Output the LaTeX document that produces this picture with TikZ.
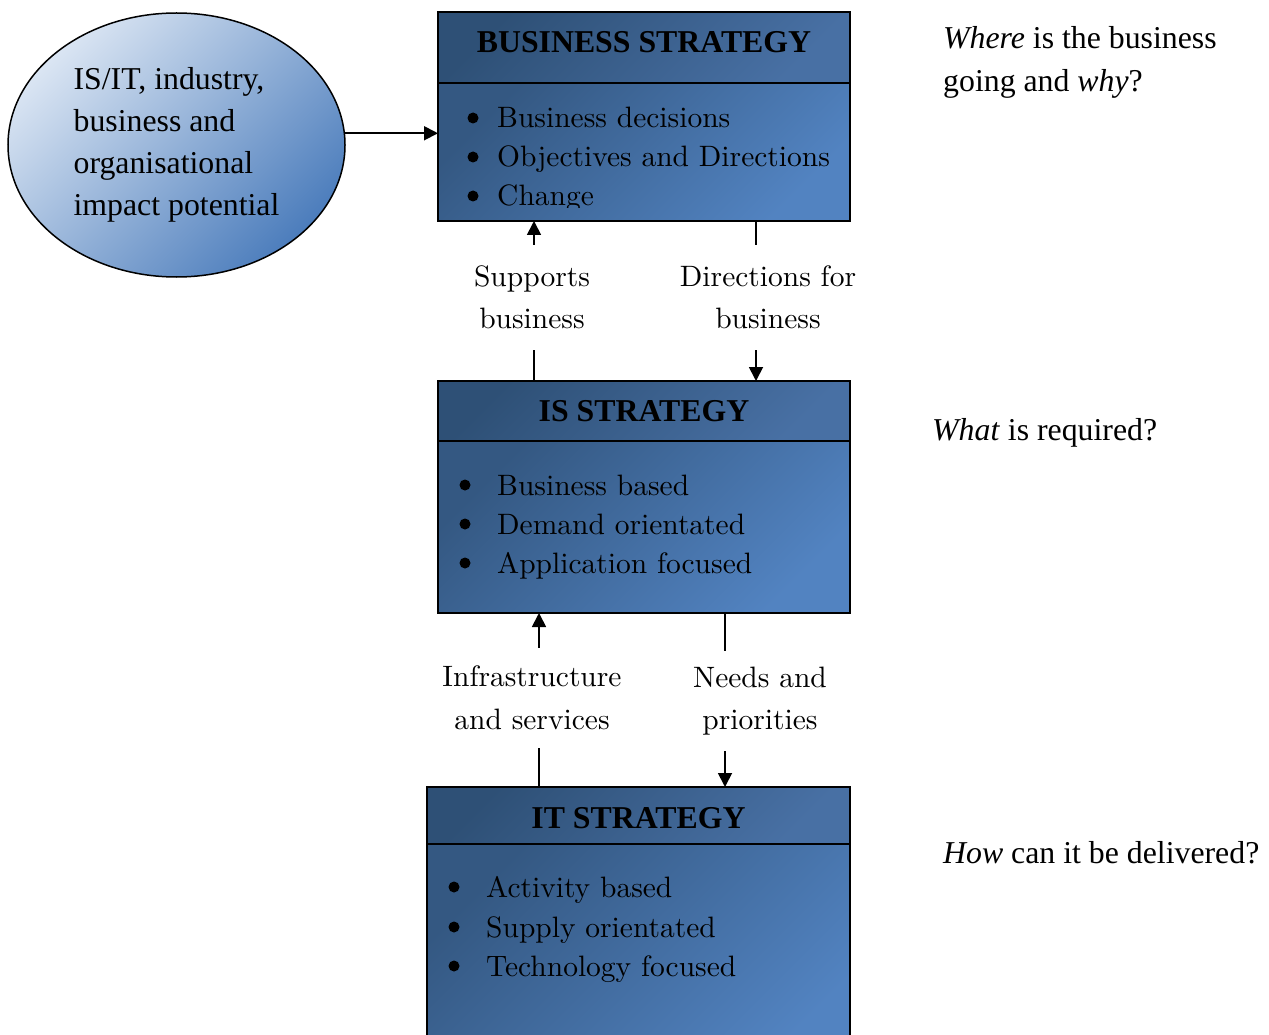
\documentclass[tikz,border=0pt]{standalone}
\usepackage{fontspec}
\setmainfont{Liberation Serif}
\newfontfamily\listfont[Extension=.otf]{lmroman10-regular}
\usetikzlibrary{arrows.meta,shapes.geometric}

\definecolor{boxdark}{RGB}{52,88,130}
\definecolor{boxlight}{RGB}{82,131,193}
\definecolor{headdark}{RGB}{46,80,118}
\definecolor{headlight}{RGB}{72,112,164}
\definecolor{ovallight}{RGB}{218,229,243}
\definecolor{ovaldark}{RGB}{76,125,188}

\tikzset{
  panel/.style={draw=black, line width=1.8pt, inner sep=0pt, outer sep=0pt,
    anchor=north west, top color=boxdark, bottom color=boxlight, shading angle=45},
  headpanel/.style={panel, top color=headdark, bottom color=headlight, shading angle=45},
  oval/.style={ellipse, draw=black, line width=1.5pt, inner sep=0pt, outer sep=0pt,
    top color=ovallight, bottom color=ovaldark, shading angle=45,
    align=left, font=\fontsize{31.8}{42}\selectfont},
  heading/.style={anchor=base, inner sep=0pt, font=\bfseries\fontsize{31.8}{38}\selectfont},
  item/.style={anchor=base west, inner sep=0pt, font=\listfont\fontsize{29.5}{36}\selectfont},
  dot/.style={circle, fill=black, inner sep=0pt, minimum size=11pt},
  flowlabel/.style={align=center, inner sep=0pt, font=\listfont\fontsize{29.5}{42.5}\selectfont},
  note/.style={inner sep=0pt, align=left, font=\fontsize{31.8}{43}\selectfont},
  link/.style={draw=black, line width=1.8pt},
  tip/.style={-{Triangle[length=14pt,width=14pt]}}
}

\begin{document}
\begin{tikzpicture}[x=1pt,y=-1pt]
\useasboundingbox (0,0) rectangle (1269,1035);
\clip (0,0) rectangle (1269,1035);

% source of impact potential
\node[oval, minimum width=337pt, minimum height=264pt] (src) at (176.5,145)
  {IS/IT, industry,\\business and\\organisational\\impact potential};

% business strategy
\node[headpanel, minimum width=412pt, minimum height=71pt] (bshead) at (438,12) {};
\node[panel, minimum width=412pt, minimum height=138pt] (bsbody) at (438,83) {};
\node[heading] (bstitle) at (644,53) {BUSINESS STRATEGY};
\begin{scope}
  \clip (438,83) rectangle (850,208);
  \node[dot] (bsd1) at (473,118) {};
  \node[item] (bsi1) at (497,128) {Business decisions};
  \node[dot] (bsd2) at (473,157) {};
  \node[item] (bsi2) at (497,167) {Objectives and Directions};
  \node[dot] (bsd3) at (473,196) {};
  \node[item] (bsi3) at (497,206) {Change};
\end{scope}

% IS strategy
\node[headpanel, minimum width=412pt, minimum height=60pt] (ishead) at (438,381) {};
\node[panel, minimum width=412pt, minimum height=172pt] (isbody) at (438,441) {};
\node[heading] (istitle) at (644,421) {IS STRATEGY};
\node[dot] (isd1) at (465,485) {};
\node[item] (isi1) at (497,495) {Business based};
\node[dot] (isd2) at (465,524) {};
\node[item] (isi2) at (497,534) {Demand orientated};
\node[dot] (isd3) at (465,563) {};
\node[item] (isi3) at (497,573) {Application focused};

% IT strategy
\node[headpanel, minimum width=423pt, minimum height=57pt] (ithead) at (427,787) {};
\node[panel, minimum width=423pt, minimum height=230pt] (itbody) at (427,844) {};
\node[heading] (ittitle) at (638.5,828) {IT STRATEGY};
\node[dot] (itd1) at (454,887) {};
\node[item] (iti1) at (486,897) {Activity based};
\node[dot] (itd2) at (454,927) {};
\node[item] (iti2) at (486,937) {Supply orientated};
\node[dot] (itd3) at (454,966) {};
\node[item] (iti3) at (486,976) {Technology focused};

% labels between the layers
\node[flowlabel, minimum height=105pt] (lsup) at (532,297.5) {Supports\\business};
\node[flowlabel, minimum height=105pt] (ldir) at (768,297.5) {Directions for\\business};
\node[flowlabel, minimum height=100pt] (linf) at (532,698) {Infrastructure\\and services};
\node[flowlabel, minimum height=100pt] (lneed) at (760,701) {Needs and\\priorities};

% questions
\node[note, anchor=west] (qwhere) at (943,62) {\textit{Where} is the business\\going and \textit{why}?};
\node[note, anchor=base west] (qwhat) at (932,440) {\textit{What} is required?};
\node[note, anchor=base west] (qhow) at (943,863) {\textit{How} can it be delivered?};

% connectors
\draw[link, tip] (src.4) -- (src.4 -| bsbody.west);

\draw[link, tip] ([xshift=2pt]lsup.north) -- ([xshift=2pt]lsup.north |- bsbody.south);
\draw[link] ([xshift=2pt]lsup.south) -- ([xshift=2pt]lsup.south |- ishead.north);

\draw[link] ([xshift=-12pt]ldir.north) -- ([xshift=-12pt]ldir.north |- bsbody.south);
\draw[link, tip] ([xshift=-12pt]ldir.south) -- ([xshift=-12pt]ldir.south |- ishead.north);

\draw[link, tip] ([xshift=7pt]linf.north) -- ([xshift=7pt]linf.north |- isbody.south);
\draw[link] ([xshift=7pt]linf.south) -- ([xshift=7pt]linf.south |- ithead.north);

\draw[link] ([xshift=-35pt]lneed.north) -- ([xshift=-35pt]lneed.north |- isbody.south);
\draw[link, tip] ([xshift=-35pt]lneed.south) -- ([xshift=-35pt]lneed.south |- ithead.north);
\end{tikzpicture}
\end{document}
